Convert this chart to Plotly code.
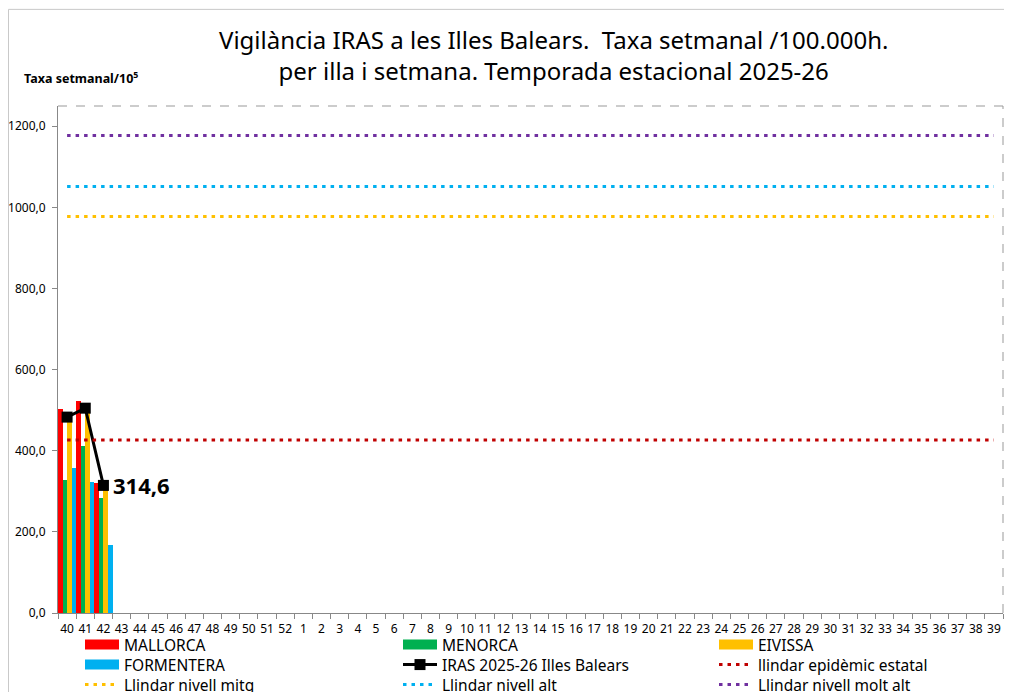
import plotly.graph_objects as go

weeks = [str(w) for w in list(range(40, 53)) + list(range(1, 40))]
data_weeks = ["40", "41", "42"]
mallorca = [502, 523, 321]
menorca = [329, 412, 284]
eivissa = [494, 495, 321]
formentera = [358, 322, 167]
iras = [483, 505, 314.6]

llindar_epidemic = 426.4
llindar_mitg = 977.6
llindar_alt = 1051.5
llindar_molt_alt = 1177.0

FONT = "Noto Sans"
DOT = "3.5px,5px"

# figure geometry (figure px; page body adds an 8px offset)
W, H = 1012, 692
ML, MR, MT, MB = 50, 17, 98, 87

fig = go.Figure()
bar_series = [("MALLORCA", mallorca, "#ff0000"), ("MENORCA", menorca, "#00b050"),
              ("EIVISSA", eivissa, "#ffc000"), ("FORMENTERA", formentera, "#00b0f0")]
for name, vals, col in bar_series:
    fig.add_trace(go.Bar(x=data_weeks, y=vals, name=name, marker_color=col,
                         marker_line_width=0, showlegend=False))

fig.add_trace(go.Scatter(
    x=data_weeks, y=iras, name="IRAS 2025-26 Illes Balears", mode="lines+markers",
    line=dict(color="black", width=3), marker=dict(symbol="square", size=11, color="black"),
    showlegend=False))

thresholds = [("llindar epidèmic estatal", llindar_epidemic, "#c00000"),
              ("Llindar nivell mitg", llindar_mitg, "#ffc000"),
              ("Llindar nivell alt", llindar_alt, "#00b0f0"),
              ("Llindar nivell molt alt", llindar_molt_alt, "#7030a0")]
for name, val, col in thresholds:
    fig.add_trace(go.Scatter(x=weeks, y=[val] * len(weeks), name=name, mode="lines",
                             line=dict(color=col, width=3, dash=DOT), showlegend=False))

# legend entries: one legend per entry, laid out in a 3x3 grid as in the reference
legend_entries = [
    ("MALLORCA", dict(mode="lines", line=dict(color="#ff0000", width=12))),
    ("MENORCA", dict(mode="lines", line=dict(color="#00b050", width=12))),
    ("EIVISSA", dict(mode="lines", line=dict(color="#ffc000", width=12))),
    ("FORMENTERA", dict(mode="lines", line=dict(color="#00b0f0", width=12))),
    ("IRAS 2025-26 Illes Balears", dict(mode="lines+markers", line=dict(color="black", width=3),
                                        marker=dict(symbol="square", size=11, color="black"))),
    ("llindar epidèmic estatal", dict(mode="lines", line=dict(color="#c00000", width=3, dash=DOT))),
    ("Llindar nivell mitg", dict(mode="lines", line=dict(color="#ffc000", width=3, dash=DOT))),
    ("Llindar nivell alt", dict(mode="lines", line=dict(color="#00b0f0", width=3, dash=DOT))),
    ("Llindar nivell molt alt", dict(mode="lines", line=dict(color="#7030a0", width=3, dash=DOT))),
]
col_x = [72, 390, 706]      # figure px
row_y = [637, 657, 677]     # figure px (centres)
legend_layouts = {}
for i, (name, style) in enumerate(legend_entries):
    lid = "legend" if i == 0 else f"legend{i + 1}"
    fig.add_trace(go.Scatter(x=[None], y=[None], name=name, legend=lid, **style))
    legend_layouts[lid] = dict(
        xref="container", yref="container",
        x=col_x[i % 3] / W, y=(H - row_y[i // 3]) / H, xanchor="left", yanchor="middle",
        font=dict(size=15.5, family=FONT, color="black"), itemwidth=34,
        bgcolor="rgba(0,0,0,0)", borderwidth=0)

fig.update_layout(
    width=W, height=H,
    margin=dict(l=ML, r=MR, t=MT, b=MB, autoexpand=False),
    paper_bgcolor="white", plot_bgcolor="white",
    separators=",.",
    barmode="group", bargap=0.0, bargroupgap=0.0,
    font=dict(family=FONT, color="black"),
    showlegend=True,
    xaxis=dict(type="category", categoryorder="array", categoryarray=weeks,
               range=[-0.5, len(weeks) - 0.5], tickson="boundaries",
               ticks="outside", ticklen=5, tickcolor="#888888", ticklabelstandoff=5,
               showline=True, linecolor="#888888", linewidth=1, showgrid=False,
               tickfont=dict(size=12, family=FONT), tickangle=0, automargin=False),
    yaxis=dict(range=[0, 1250], dtick=200, tickformat=".1f", ticks="outside", ticklen=5,
               tickcolor="#888888", showline=True, linecolor="#888888", linewidth=1,
               ticklabelstandoff=4,
               showgrid=False, zeroline=False, tickfont=dict(size=12, family=FONT),
               automargin=False),
    annotations=[
        dict(xref="paper", yref="paper", x=0.524, y=1.1, xanchor="center", yanchor="middle",
             text="Vigilància IRAS a les Illes Balears.  Taxa setmanal /100.000h.<br>per illa i setmana. Temporada estacional 2025-26",
             showarrow=False, font=dict(size=24, family=FONT), align="center"),
        dict(xref="paper", yref="paper", x=-0.038, y=1.0546, xanchor="left", yanchor="middle",
             text="<b>Taxa setmanal/10<sup>5</sup></b>", showarrow=False,
             font=dict(size=12.5, family=FONT)),
        dict(xref="x", yref="y", x=weeks.index(data_weeks[-1]), y=iras[-1],
             xanchor="left", yanchor="middle",
             xshift=8, text=f"<b>{iras[-1]:.1f}</b>".replace(".", ","), showarrow=False,
             font=dict(size=22, family=FONT, color="black")),
    ],
    shapes=[
        dict(type="line", xref="paper", yref="paper", x0=0, x1=1, y0=1, y1=1,
             line=dict(color="#999999", width=1, dash="dash")),
        dict(type="line", xref="paper", yref="paper", x0=1, x1=1, y0=0, y1=1,
             line=dict(color="#999999", width=1, dash="dash")),
        dict(type="rect", xref="paper", yref="paper", x0=-0.0524, x1=1.03, y0=-0.3, y1=1.1906,
             line=dict(color="#c8c8c8", width=1), fillcolor="rgba(0,0,0,0)"),
    ],
    **legend_layouts,
)

fig.write_html("out.html")
